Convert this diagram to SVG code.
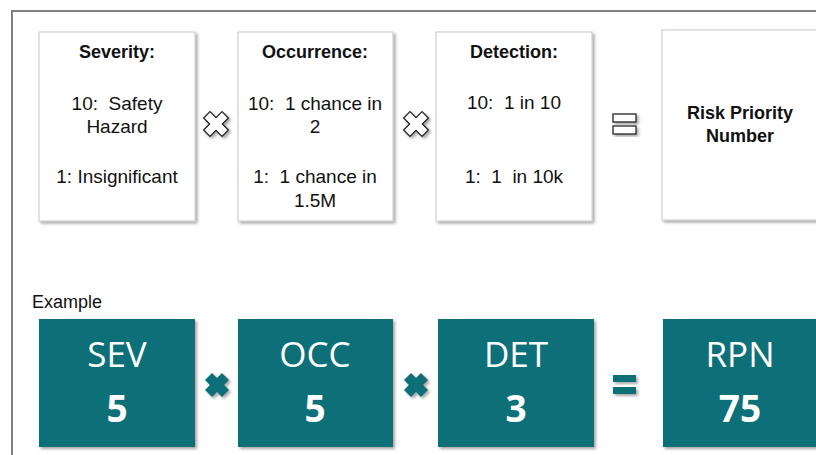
<svg xmlns="http://www.w3.org/2000/svg" width="816" height="455" viewBox="0 0 816 455">
<style>
text{white-space:pre}
.t{font-family:"Liberation Sans",Arial,sans-serif;font-size:19px;fill:#111;text-anchor:middle}
.b{font-weight:bold;font-size:18px}
.box{fill:#fff;stroke:#c8c8c8;stroke-width:1}
.tbox{fill:#0e6f78}
.w1{font-family:"Open Sans","Liberation Sans",sans-serif;font-size:35px;fill:#fff;text-anchor:middle}
.w2{font-family:"Open Sans","Liberation Sans",sans-serif;font-size:37px;font-weight:bold;fill:#fff;text-anchor:middle}
.ox{fill:#fff;stroke:#222;stroke-width:1.3}
.tx{fill:#0e6f78}
</style>
<defs>
<filter id="sh" x="-20%" y="-20%" width="150%" height="150%">
<feDropShadow dx="2" dy="2" stdDeviation="1.5" flood-color="#000" flood-opacity="0.35"/>
</filter>
<path id="xo" d="M-4.5,-13 L4.5,-13 L4.5,-4.5 L13,-4.5 L13,4.5 L4.5,4.5 L4.5,13 L-4.5,13 L-4.5,4.5 L-13,4.5 L-13,-4.5 L-4.5,-4.5 Z" transform="rotate(45)"/>
<path id="xt" d="M-5,-12 L5,-12 L5,-5 L12,-5 L12,5 L5,5 L5,12 L-5,12 L-5,5 L-12,5 L-12,-5 L-5,-5 Z" transform="rotate(45)"/>
</defs>
<rect width="816" height="455" fill="#fff"/>
<path d="M12,455 L12,11 L816,11" fill="none" stroke="#808080" stroke-width="2"/>

<g id="severity">
<rect class="box" x="39" y="32" width="156" height="189" filter="url(#sh)"/>
<text class="t b" x="117" y="58">Severity:</text>
<text class="t" x="117" y="110" xml:space="preserve">10:  Safety</text>
<text class="t" x="117" y="133">Hazard</text>
<text class="t" x="117" y="183">1: Insignificant</text>
</g>
<g id="occurrence">
<rect class="box" x="238" y="32" width="155" height="189" filter="url(#sh)"/>
<text class="t b" x="315" y="58">Occurrence:</text>
<text class="t" x="315" y="110" xml:space="preserve">10:  1 chance in</text>
<text class="t" x="315" y="133">2</text>
<text class="t" x="315" y="183" xml:space="preserve">1:  1 chance in</text>
<text class="t" x="315" y="207">1.5M</text>
</g>
<g id="detection">
<rect class="box" x="436" y="32" width="156" height="189" filter="url(#sh)"/>
<text class="t b" x="514" y="58">Detection:</text>
<text class="t" x="514" y="109" xml:space="preserve">10:  1 in 10</text>
<text class="t" x="514" y="183" xml:space="preserve">1:  1  in 10k</text>
</g>
<g id="rpn">
<rect class="box" x="662" y="30" width="160" height="190" filter="url(#sh)"/>
<text class="t b" x="740" y="119">Risk Priority</text>
<text class="t b" x="740" y="142">Number</text>
</g>
<g id="ops-top">
<use href="#xo" class="ox" x="216" y="124" filter="url(#sh)"/>
<use href="#xo" class="ox" x="416" y="124" filter="url(#sh)"/>
<rect class="ox" x="613" y="114" width="23" height="8" filter="url(#sh)"/>
<rect class="ox" x="613" y="126" width="23" height="8" filter="url(#sh)"/>
</g>

<text x="32" y="308" font-family="Liberation Sans,Arial,sans-serif" font-size="18" fill="#111">Example</text>

<g id="sev">
<rect class="tbox" x="39" y="319" width="156" height="128" filter="url(#sh)"/>
<text class="w1" x="117" y="367">SEV</text>
<text class="w2" x="117" y="422">5</text>
</g>
<g id="occ">
<rect class="tbox" x="238" y="319" width="155" height="128" filter="url(#sh)"/>
<text class="w1" x="315" y="367">OCC</text>
<text class="w2" x="315" y="422">5</text>
</g>
<g id="det">
<rect class="tbox" x="438" y="319" width="156" height="128" filter="url(#sh)"/>
<text class="w1" x="516" y="367">DET</text>
<text class="w2" x="516" y="422">3</text>
</g>
<g id="rpn-ex">
<rect class="tbox" x="663" y="319" width="160" height="128" filter="url(#sh)"/>
<text class="w1" x="740" y="367">RPN</text>
<text class="w2" x="740" y="422">75</text>
</g>
<g id="ops-bottom">
<use href="#xt" class="tx" x="217" y="385" filter="url(#sh)"/>
<use href="#xt" class="tx" x="416" y="385" filter="url(#sh)"/>
<rect class="tx" x="613" y="375" width="23" height="7" filter="url(#sh)"/>
<rect class="tx" x="613" y="387" width="23" height="7" filter="url(#sh)"/>
</g>
</svg>
